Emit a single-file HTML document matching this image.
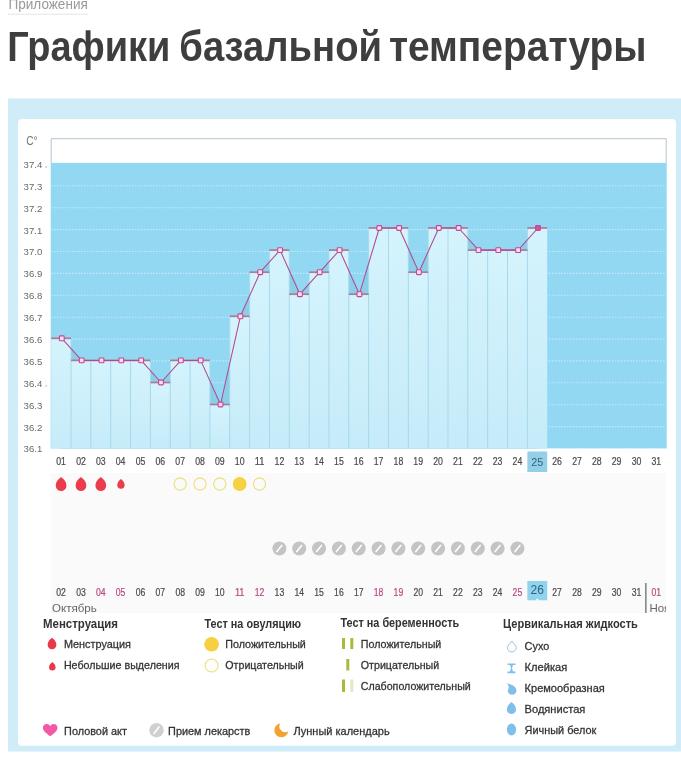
<!DOCTYPE html>
<html><head><meta charset="utf-8"><style>
html,body{margin:0;padding:0;background:#fff;width:681px;height:770px;overflow:hidden;}
svg{position:absolute;left:0;top:0;will-change:transform;}
</style></head><body>
<svg width="681" height="770" viewBox="0 0 681 770">
<defs><linearGradient id="bg" x1="0" y1="0" x2="0" y2="1"><stop offset="0" stop-color="#d4f3fd"/><stop offset="1" stop-color="#c6ecf9"/></linearGradient></defs>
<text x="8.5" y="9.4" font-family="Liberation Sans, sans-serif" font-size="14.5" fill="#999" textLength="79.3" lengthAdjust="spacingAndGlyphs">Приложения</text>
<line x1="8.5" y1="14.2" x2="88" y2="14.2" stroke="#c8c8c8" stroke-width="1" stroke-dasharray="1 1"/>
<text x="7.2" y="60.6" font-family="Liberation Sans, sans-serif" font-size="43" font-weight="bold" fill="#3e3e3e" textLength="163.2" lengthAdjust="spacingAndGlyphs">Графики</text>
<text x="179.3" y="60.6" font-family="Liberation Sans, sans-serif" font-size="43" font-weight="bold" fill="#3e3e3e" textLength="202.7" lengthAdjust="spacingAndGlyphs">базальной</text>
<text x="388.9" y="60.6" font-family="Liberation Sans, sans-serif" font-size="43" font-weight="bold" fill="#3e3e3e" textLength="257.7" lengthAdjust="spacingAndGlyphs">температуры</text>
<rect x="8" y="98.5" width="673" height="653" fill="#d0ecf8"/>
<rect x="18" y="119" width="658" height="626.8" rx="4" fill="#ffffff"/>
<rect x="51.2" y="473" width="615.0" height="140" fill="#fafafb"/>
<path d="M51.2,163.5 V138.7 H666.2 V163.5" fill="none" stroke="#b6c6ce" stroke-width="1"/>
<rect x="51.7" y="162.0" width="614.0" height="1.5" fill="#ecf9fe"/>
<rect x="50.7" y="163.0" width="616.0" height="285.5" fill="#92d8f2"/>
<line x1="51.2" y1="185.8" x2="666.2" y2="185.8" stroke="#eefaff" stroke-width="1.1" stroke-dasharray="1.2 1.8" opacity="0.65"/>
<line x1="51.2" y1="207.7" x2="666.2" y2="207.7" stroke="#eefaff" stroke-width="1.1" stroke-dasharray="1.2 1.8" opacity="0.65"/>
<line x1="51.2" y1="229.6" x2="666.2" y2="229.6" stroke="#eefaff" stroke-width="1.1" stroke-dasharray="1.2 1.8" opacity="0.65"/>
<line x1="51.2" y1="251.5" x2="666.2" y2="251.5" stroke="#eefaff" stroke-width="1.1" stroke-dasharray="1.2 1.8" opacity="0.65"/>
<line x1="51.2" y1="273.4" x2="666.2" y2="273.4" stroke="#eefaff" stroke-width="1.1" stroke-dasharray="1.2 1.8" opacity="0.65"/>
<line x1="51.2" y1="295.3" x2="666.2" y2="295.3" stroke="#eefaff" stroke-width="1.1" stroke-dasharray="1.2 1.8" opacity="0.65"/>
<line x1="51.2" y1="317.2" x2="666.2" y2="317.2" stroke="#eefaff" stroke-width="1.1" stroke-dasharray="1.2 1.8" opacity="0.65"/>
<line x1="51.2" y1="339.1" x2="666.2" y2="339.1" stroke="#eefaff" stroke-width="1.1" stroke-dasharray="1.2 1.8" opacity="0.65"/>
<line x1="51.2" y1="360.9" x2="666.2" y2="360.9" stroke="#eefaff" stroke-width="1.1" stroke-dasharray="1.2 1.8" opacity="0.65"/>
<line x1="51.2" y1="382.8" x2="666.2" y2="382.8" stroke="#eefaff" stroke-width="1.1" stroke-dasharray="1.2 1.8" opacity="0.65"/>
<line x1="51.2" y1="404.7" x2="666.2" y2="404.7" stroke="#eefaff" stroke-width="1.1" stroke-dasharray="1.2 1.8" opacity="0.65"/>
<line x1="51.2" y1="426.6" x2="666.2" y2="426.6" stroke="#eefaff" stroke-width="1.1" stroke-dasharray="1.2 1.8" opacity="0.65"/>
<line x1="51.2" y1="448.5" x2="666.2" y2="448.5" stroke="#eefaff" stroke-width="1.1" stroke-dasharray="1.2 1.8" opacity="0.65"/>
<polygon points="61.1,448.5 61.8,338.3 81.7,360.4 101.5,360.4 121.3,360.4 141.2,360.4 161.0,382.5 180.9,360.4 200.7,360.4 220.5,404.5 240.4,316.3 260.2,272.2 280.1,250.1 299.9,294.2 319.7,272.2 339.6,250.1 359.4,294.2 379.3,228.0 399.1,228.0 418.9,272.2 438.8,228.0 458.6,228.0 478.5,250.1 498.3,250.1 518.1,250.1 538.0,228.0 537.3,448.5" fill="#8acfe7"/>
<rect x="51.20" y="338.3" width="19.84" height="110.2" fill="url(#bg)"/>
<rect x="71.04" y="360.4" width="19.84" height="88.1" fill="url(#bg)"/>
<rect x="90.88" y="360.4" width="19.84" height="88.1" fill="url(#bg)"/>
<rect x="110.72" y="360.4" width="19.84" height="88.1" fill="url(#bg)"/>
<rect x="130.56" y="360.4" width="19.84" height="88.1" fill="url(#bg)"/>
<rect x="150.40" y="382.5" width="19.84" height="66.0" fill="url(#bg)"/>
<rect x="170.24" y="360.4" width="19.84" height="88.1" fill="url(#bg)"/>
<rect x="190.08" y="360.4" width="19.84" height="88.1" fill="url(#bg)"/>
<rect x="209.92" y="404.5" width="19.84" height="44.0" fill="url(#bg)"/>
<rect x="229.76" y="316.3" width="19.84" height="132.2" fill="url(#bg)"/>
<rect x="249.60" y="272.2" width="19.84" height="176.3" fill="url(#bg)"/>
<rect x="269.44" y="250.1" width="19.84" height="198.4" fill="url(#bg)"/>
<rect x="289.28" y="294.2" width="19.84" height="154.3" fill="url(#bg)"/>
<rect x="309.12" y="272.2" width="19.84" height="176.3" fill="url(#bg)"/>
<rect x="328.96" y="250.1" width="19.84" height="198.4" fill="url(#bg)"/>
<rect x="348.80" y="294.2" width="19.84" height="154.3" fill="url(#bg)"/>
<rect x="368.64" y="228.0" width="19.84" height="220.5" fill="url(#bg)"/>
<rect x="388.48" y="228.0" width="19.84" height="220.5" fill="url(#bg)"/>
<rect x="408.32" y="272.2" width="19.84" height="176.3" fill="url(#bg)"/>
<rect x="428.16" y="228.0" width="19.84" height="220.5" fill="url(#bg)"/>
<rect x="448.00" y="228.0" width="19.84" height="220.5" fill="url(#bg)"/>
<rect x="467.84" y="250.1" width="19.84" height="198.4" fill="url(#bg)"/>
<rect x="487.68" y="250.1" width="19.84" height="198.4" fill="url(#bg)"/>
<rect x="507.52" y="250.1" width="19.84" height="198.4" fill="url(#bg)"/>
<rect x="527.36" y="228.0" width="19.84" height="220.5" fill="url(#bg)"/>
<line x1="71.04" y1="338.3" x2="71.04" y2="448.5" stroke="#a9d9ec" stroke-width="1"/>
<line x1="90.88" y1="360.4" x2="90.88" y2="448.5" stroke="#a9d9ec" stroke-width="1"/>
<line x1="110.72" y1="360.4" x2="110.72" y2="448.5" stroke="#a9d9ec" stroke-width="1"/>
<line x1="130.56" y1="360.4" x2="130.56" y2="448.5" stroke="#a9d9ec" stroke-width="1"/>
<line x1="150.40" y1="360.4" x2="150.40" y2="448.5" stroke="#a9d9ec" stroke-width="1"/>
<line x1="170.24" y1="360.4" x2="170.24" y2="448.5" stroke="#a9d9ec" stroke-width="1"/>
<line x1="190.08" y1="360.4" x2="190.08" y2="448.5" stroke="#a9d9ec" stroke-width="1"/>
<line x1="209.92" y1="360.4" x2="209.92" y2="448.5" stroke="#a9d9ec" stroke-width="1"/>
<line x1="229.76" y1="316.3" x2="229.76" y2="448.5" stroke="#a9d9ec" stroke-width="1"/>
<line x1="249.60" y1="272.2" x2="249.60" y2="448.5" stroke="#a9d9ec" stroke-width="1"/>
<line x1="269.44" y1="250.1" x2="269.44" y2="448.5" stroke="#a9d9ec" stroke-width="1"/>
<line x1="289.28" y1="250.1" x2="289.28" y2="448.5" stroke="#a9d9ec" stroke-width="1"/>
<line x1="309.12" y1="272.2" x2="309.12" y2="448.5" stroke="#a9d9ec" stroke-width="1"/>
<line x1="328.96" y1="250.1" x2="328.96" y2="448.5" stroke="#a9d9ec" stroke-width="1"/>
<line x1="348.80" y1="250.1" x2="348.80" y2="448.5" stroke="#a9d9ec" stroke-width="1"/>
<line x1="368.64" y1="228.0" x2="368.64" y2="448.5" stroke="#a9d9ec" stroke-width="1"/>
<line x1="388.48" y1="228.0" x2="388.48" y2="448.5" stroke="#a9d9ec" stroke-width="1"/>
<line x1="408.32" y1="228.0" x2="408.32" y2="448.5" stroke="#a9d9ec" stroke-width="1"/>
<line x1="428.16" y1="228.0" x2="428.16" y2="448.5" stroke="#a9d9ec" stroke-width="1"/>
<line x1="448.00" y1="228.0" x2="448.00" y2="448.5" stroke="#a9d9ec" stroke-width="1"/>
<line x1="467.84" y1="228.0" x2="467.84" y2="448.5" stroke="#a9d9ec" stroke-width="1"/>
<line x1="487.68" y1="250.1" x2="487.68" y2="448.5" stroke="#a9d9ec" stroke-width="1"/>
<line x1="507.52" y1="250.1" x2="507.52" y2="448.5" stroke="#a9d9ec" stroke-width="1"/>
<line x1="527.36" y1="228.0" x2="527.36" y2="448.5" stroke="#a9d9ec" stroke-width="1"/>
<line x1="51.20" y1="338.3" x2="71.04" y2="338.3" stroke="#ad7a9a" stroke-width="1.7"/>
<line x1="71.04" y1="360.4" x2="90.88" y2="360.4" stroke="#ad7a9a" stroke-width="1.7"/>
<line x1="90.88" y1="360.4" x2="110.72" y2="360.4" stroke="#ad7a9a" stroke-width="1.7"/>
<line x1="110.72" y1="360.4" x2="130.56" y2="360.4" stroke="#ad7a9a" stroke-width="1.7"/>
<line x1="130.56" y1="360.4" x2="150.40" y2="360.4" stroke="#ad7a9a" stroke-width="1.7"/>
<line x1="150.40" y1="382.5" x2="170.24" y2="382.5" stroke="#ad7a9a" stroke-width="1.7"/>
<line x1="170.24" y1="360.4" x2="190.08" y2="360.4" stroke="#ad7a9a" stroke-width="1.7"/>
<line x1="190.08" y1="360.4" x2="209.92" y2="360.4" stroke="#ad7a9a" stroke-width="1.7"/>
<line x1="209.92" y1="404.5" x2="229.76" y2="404.5" stroke="#ad7a9a" stroke-width="1.7"/>
<line x1="229.76" y1="316.3" x2="249.60" y2="316.3" stroke="#ad7a9a" stroke-width="1.7"/>
<line x1="249.60" y1="272.2" x2="269.44" y2="272.2" stroke="#ad7a9a" stroke-width="1.7"/>
<line x1="269.44" y1="250.1" x2="289.28" y2="250.1" stroke="#ad7a9a" stroke-width="1.7"/>
<line x1="289.28" y1="294.2" x2="309.12" y2="294.2" stroke="#ad7a9a" stroke-width="1.7"/>
<line x1="309.12" y1="272.2" x2="328.96" y2="272.2" stroke="#ad7a9a" stroke-width="1.7"/>
<line x1="328.96" y1="250.1" x2="348.80" y2="250.1" stroke="#ad7a9a" stroke-width="1.7"/>
<line x1="348.80" y1="294.2" x2="368.64" y2="294.2" stroke="#ad7a9a" stroke-width="1.7"/>
<line x1="368.64" y1="228.0" x2="388.48" y2="228.0" stroke="#ad7a9a" stroke-width="1.7"/>
<line x1="388.48" y1="228.0" x2="408.32" y2="228.0" stroke="#ad7a9a" stroke-width="1.7"/>
<line x1="408.32" y1="272.2" x2="428.16" y2="272.2" stroke="#ad7a9a" stroke-width="1.7"/>
<line x1="428.16" y1="228.0" x2="448.00" y2="228.0" stroke="#ad7a9a" stroke-width="1.7"/>
<line x1="448.00" y1="228.0" x2="467.84" y2="228.0" stroke="#ad7a9a" stroke-width="1.7"/>
<line x1="467.84" y1="250.1" x2="487.68" y2="250.1" stroke="#ad7a9a" stroke-width="1.7"/>
<line x1="487.68" y1="250.1" x2="507.52" y2="250.1" stroke="#ad7a9a" stroke-width="1.7"/>
<line x1="507.52" y1="250.1" x2="527.36" y2="250.1" stroke="#ad7a9a" stroke-width="1.7"/>
<line x1="527.36" y1="228.0" x2="547.20" y2="228.0" stroke="#ad7a9a" stroke-width="1.7"/>
<polyline points="61.8,338.3 81.7,360.4 101.5,360.4 121.3,360.4 141.2,360.4 161.0,382.5 180.9,360.4 200.7,360.4 220.5,404.5 240.4,316.3 260.2,272.2 280.1,250.1 299.9,294.2 319.7,272.2 339.6,250.1 359.4,294.2 379.3,228.0 399.1,228.0 418.9,272.2 438.8,228.0 458.6,228.0 478.5,250.1 498.3,250.1 518.1,250.1 538.0,228.0" fill="none" stroke="#b24a8e" stroke-width="1.05" stroke-linejoin="round"/>
<rect x="59.4" y="335.9" width="4.8" height="4.8" rx="0.8" fill="#fcdcf2" stroke="#c04a90" stroke-width="1.1"/>
<rect x="79.3" y="358.0" width="4.8" height="4.8" rx="0.8" fill="#fcdcf2" stroke="#c04a90" stroke-width="1.1"/>
<rect x="99.1" y="358.0" width="4.8" height="4.8" rx="0.8" fill="#fcdcf2" stroke="#c04a90" stroke-width="1.1"/>
<rect x="118.9" y="358.0" width="4.8" height="4.8" rx="0.8" fill="#fcdcf2" stroke="#c04a90" stroke-width="1.1"/>
<rect x="138.8" y="358.0" width="4.8" height="4.8" rx="0.8" fill="#fcdcf2" stroke="#c04a90" stroke-width="1.1"/>
<rect x="158.6" y="380.1" width="4.8" height="4.8" rx="0.8" fill="#fcdcf2" stroke="#c04a90" stroke-width="1.1"/>
<rect x="178.5" y="358.0" width="4.8" height="4.8" rx="0.8" fill="#fcdcf2" stroke="#c04a90" stroke-width="1.1"/>
<rect x="198.3" y="358.0" width="4.8" height="4.8" rx="0.8" fill="#fcdcf2" stroke="#c04a90" stroke-width="1.1"/>
<rect x="218.1" y="402.1" width="4.8" height="4.8" rx="0.8" fill="#fcdcf2" stroke="#c04a90" stroke-width="1.1"/>
<rect x="238.0" y="313.9" width="4.8" height="4.8" rx="0.8" fill="#fcdcf2" stroke="#c04a90" stroke-width="1.1"/>
<rect x="257.8" y="269.8" width="4.8" height="4.8" rx="0.8" fill="#fcdcf2" stroke="#c04a90" stroke-width="1.1"/>
<rect x="277.7" y="247.7" width="4.8" height="4.8" rx="0.8" fill="#fcdcf2" stroke="#c04a90" stroke-width="1.1"/>
<rect x="297.5" y="291.8" width="4.8" height="4.8" rx="0.8" fill="#fcdcf2" stroke="#c04a90" stroke-width="1.1"/>
<rect x="317.3" y="269.8" width="4.8" height="4.8" rx="0.8" fill="#fcdcf2" stroke="#c04a90" stroke-width="1.1"/>
<rect x="337.2" y="247.7" width="4.8" height="4.8" rx="0.8" fill="#fcdcf2" stroke="#c04a90" stroke-width="1.1"/>
<rect x="357.0" y="291.8" width="4.8" height="4.8" rx="0.8" fill="#fcdcf2" stroke="#c04a90" stroke-width="1.1"/>
<rect x="376.9" y="225.6" width="4.8" height="4.8" rx="0.8" fill="#fcdcf2" stroke="#c04a90" stroke-width="1.1"/>
<rect x="396.7" y="225.6" width="4.8" height="4.8" rx="0.8" fill="#fcdcf2" stroke="#c04a90" stroke-width="1.1"/>
<rect x="416.5" y="269.8" width="4.8" height="4.8" rx="0.8" fill="#fcdcf2" stroke="#c04a90" stroke-width="1.1"/>
<rect x="436.4" y="225.6" width="4.8" height="4.8" rx="0.8" fill="#fcdcf2" stroke="#c04a90" stroke-width="1.1"/>
<rect x="456.2" y="225.6" width="4.8" height="4.8" rx="0.8" fill="#fcdcf2" stroke="#c04a90" stroke-width="1.1"/>
<rect x="476.1" y="247.7" width="4.8" height="4.8" rx="0.8" fill="#fcdcf2" stroke="#c04a90" stroke-width="1.1"/>
<rect x="495.9" y="247.7" width="4.8" height="4.8" rx="0.8" fill="#fcdcf2" stroke="#c04a90" stroke-width="1.1"/>
<rect x="515.7" y="247.7" width="4.8" height="4.8" rx="0.8" fill="#fcdcf2" stroke="#c04a90" stroke-width="1.1"/>
<rect x="535.6" y="225.6" width="4.8" height="4.8" rx="0.8" fill="#c8589a" stroke="#c04a90" stroke-width="1.1"/>
<text x="26.2" y="144.5" font-family="Liberation Sans, sans-serif" font-size="12" fill="#777" textLength="11.5" lengthAdjust="spacingAndGlyphs">C°</text>
<text x="23.6" y="167.8" font-family="Liberation Sans, sans-serif" font-size="9.4" fill="#686868" textLength="18.7" lengthAdjust="spacingAndGlyphs">37.4</text>
<text x="23.6" y="189.7" font-family="Liberation Sans, sans-serif" font-size="9.4" fill="#686868" textLength="18.7" lengthAdjust="spacingAndGlyphs">37.3</text>
<text x="23.6" y="211.6" font-family="Liberation Sans, sans-serif" font-size="9.4" fill="#686868" textLength="18.7" lengthAdjust="spacingAndGlyphs">37.2</text>
<text x="23.6" y="233.5" font-family="Liberation Sans, sans-serif" font-size="9.4" fill="#686868" textLength="18.7" lengthAdjust="spacingAndGlyphs">37.1</text>
<text x="23.6" y="255.4" font-family="Liberation Sans, sans-serif" font-size="9.4" fill="#686868" textLength="18.7" lengthAdjust="spacingAndGlyphs">37.0</text>
<text x="23.6" y="277.3" font-family="Liberation Sans, sans-serif" font-size="9.4" fill="#686868" textLength="18.7" lengthAdjust="spacingAndGlyphs">36.9</text>
<text x="23.6" y="299.2" font-family="Liberation Sans, sans-serif" font-size="9.4" fill="#686868" textLength="18.7" lengthAdjust="spacingAndGlyphs">36.8</text>
<text x="23.6" y="321.1" font-family="Liberation Sans, sans-serif" font-size="9.4" fill="#686868" textLength="18.7" lengthAdjust="spacingAndGlyphs">36.7</text>
<text x="23.6" y="342.9" font-family="Liberation Sans, sans-serif" font-size="9.4" fill="#686868" textLength="18.7" lengthAdjust="spacingAndGlyphs">36.6</text>
<text x="23.6" y="364.8" font-family="Liberation Sans, sans-serif" font-size="9.4" fill="#686868" textLength="18.7" lengthAdjust="spacingAndGlyphs">36.5</text>
<text x="23.6" y="386.7" font-family="Liberation Sans, sans-serif" font-size="9.4" fill="#686868" textLength="18.7" lengthAdjust="spacingAndGlyphs">36.4</text>
<text x="23.6" y="408.6" font-family="Liberation Sans, sans-serif" font-size="9.4" fill="#686868" textLength="18.7" lengthAdjust="spacingAndGlyphs">36.3</text>
<text x="23.6" y="430.5" font-family="Liberation Sans, sans-serif" font-size="9.4" fill="#686868" textLength="18.7" lengthAdjust="spacingAndGlyphs">36.2</text>
<text x="23.6" y="452.4" font-family="Liberation Sans, sans-serif" font-size="9.4" fill="#686868" textLength="18.7" lengthAdjust="spacingAndGlyphs">36.1</text>
<rect x="45.5" y="166.4" width="1.2" height="1.2" fill="#999"/><rect x="45.5" y="385.3" width="1.2" height="1.2" fill="#999"/>
<rect x="527.36" y="451.5" width="19.84" height="20.5" fill="#93cfe6"/>
<text x="61.1" y="465" font-family="Liberation Sans, sans-serif" font-size="10" fill="#4a4a4a" stroke="#4a4a4a" stroke-width="0.2" text-anchor="middle" textLength="9.7" lengthAdjust="spacingAndGlyphs">01</text>
<text x="81.0" y="465" font-family="Liberation Sans, sans-serif" font-size="10" fill="#4a4a4a" stroke="#4a4a4a" stroke-width="0.2" text-anchor="middle" textLength="9.7" lengthAdjust="spacingAndGlyphs">02</text>
<text x="100.8" y="465" font-family="Liberation Sans, sans-serif" font-size="10" fill="#4a4a4a" stroke="#4a4a4a" stroke-width="0.2" text-anchor="middle" textLength="9.7" lengthAdjust="spacingAndGlyphs">03</text>
<text x="120.6" y="465" font-family="Liberation Sans, sans-serif" font-size="10" fill="#4a4a4a" stroke="#4a4a4a" stroke-width="0.2" text-anchor="middle" textLength="9.7" lengthAdjust="spacingAndGlyphs">04</text>
<text x="140.5" y="465" font-family="Liberation Sans, sans-serif" font-size="10" fill="#4a4a4a" stroke="#4a4a4a" stroke-width="0.2" text-anchor="middle" textLength="9.7" lengthAdjust="spacingAndGlyphs">05</text>
<text x="160.3" y="465" font-family="Liberation Sans, sans-serif" font-size="10" fill="#4a4a4a" stroke="#4a4a4a" stroke-width="0.2" text-anchor="middle" textLength="9.7" lengthAdjust="spacingAndGlyphs">06</text>
<text x="180.2" y="465" font-family="Liberation Sans, sans-serif" font-size="10" fill="#4a4a4a" stroke="#4a4a4a" stroke-width="0.2" text-anchor="middle" textLength="9.7" lengthAdjust="spacingAndGlyphs">07</text>
<text x="200.0" y="465" font-family="Liberation Sans, sans-serif" font-size="10" fill="#4a4a4a" stroke="#4a4a4a" stroke-width="0.2" text-anchor="middle" textLength="9.7" lengthAdjust="spacingAndGlyphs">08</text>
<text x="219.8" y="465" font-family="Liberation Sans, sans-serif" font-size="10" fill="#4a4a4a" stroke="#4a4a4a" stroke-width="0.2" text-anchor="middle" textLength="9.7" lengthAdjust="spacingAndGlyphs">09</text>
<text x="239.7" y="465" font-family="Liberation Sans, sans-serif" font-size="10" fill="#4a4a4a" stroke="#4a4a4a" stroke-width="0.2" text-anchor="middle" textLength="9.7" lengthAdjust="spacingAndGlyphs">10</text>
<text x="259.5" y="465" font-family="Liberation Sans, sans-serif" font-size="10" fill="#4a4a4a" stroke="#4a4a4a" stroke-width="0.2" text-anchor="middle" textLength="9.7" lengthAdjust="spacingAndGlyphs">11</text>
<text x="279.4" y="465" font-family="Liberation Sans, sans-serif" font-size="10" fill="#4a4a4a" stroke="#4a4a4a" stroke-width="0.2" text-anchor="middle" textLength="9.7" lengthAdjust="spacingAndGlyphs">12</text>
<text x="299.2" y="465" font-family="Liberation Sans, sans-serif" font-size="10" fill="#4a4a4a" stroke="#4a4a4a" stroke-width="0.2" text-anchor="middle" textLength="9.7" lengthAdjust="spacingAndGlyphs">13</text>
<text x="319.0" y="465" font-family="Liberation Sans, sans-serif" font-size="10" fill="#4a4a4a" stroke="#4a4a4a" stroke-width="0.2" text-anchor="middle" textLength="9.7" lengthAdjust="spacingAndGlyphs">14</text>
<text x="338.9" y="465" font-family="Liberation Sans, sans-serif" font-size="10" fill="#4a4a4a" stroke="#4a4a4a" stroke-width="0.2" text-anchor="middle" textLength="9.7" lengthAdjust="spacingAndGlyphs">15</text>
<text x="358.7" y="465" font-family="Liberation Sans, sans-serif" font-size="10" fill="#4a4a4a" stroke="#4a4a4a" stroke-width="0.2" text-anchor="middle" textLength="9.7" lengthAdjust="spacingAndGlyphs">16</text>
<text x="378.6" y="465" font-family="Liberation Sans, sans-serif" font-size="10" fill="#4a4a4a" stroke="#4a4a4a" stroke-width="0.2" text-anchor="middle" textLength="9.7" lengthAdjust="spacingAndGlyphs">17</text>
<text x="398.4" y="465" font-family="Liberation Sans, sans-serif" font-size="10" fill="#4a4a4a" stroke="#4a4a4a" stroke-width="0.2" text-anchor="middle" textLength="9.7" lengthAdjust="spacingAndGlyphs">18</text>
<text x="418.2" y="465" font-family="Liberation Sans, sans-serif" font-size="10" fill="#4a4a4a" stroke="#4a4a4a" stroke-width="0.2" text-anchor="middle" textLength="9.7" lengthAdjust="spacingAndGlyphs">19</text>
<text x="438.1" y="465" font-family="Liberation Sans, sans-serif" font-size="10" fill="#4a4a4a" stroke="#4a4a4a" stroke-width="0.2" text-anchor="middle" textLength="9.7" lengthAdjust="spacingAndGlyphs">20</text>
<text x="457.9" y="465" font-family="Liberation Sans, sans-serif" font-size="10" fill="#4a4a4a" stroke="#4a4a4a" stroke-width="0.2" text-anchor="middle" textLength="9.7" lengthAdjust="spacingAndGlyphs">21</text>
<text x="477.8" y="465" font-family="Liberation Sans, sans-serif" font-size="10" fill="#4a4a4a" stroke="#4a4a4a" stroke-width="0.2" text-anchor="middle" textLength="9.7" lengthAdjust="spacingAndGlyphs">22</text>
<text x="497.6" y="465" font-family="Liberation Sans, sans-serif" font-size="10" fill="#4a4a4a" stroke="#4a4a4a" stroke-width="0.2" text-anchor="middle" textLength="9.7" lengthAdjust="spacingAndGlyphs">23</text>
<text x="517.4" y="465" font-family="Liberation Sans, sans-serif" font-size="10" fill="#4a4a4a" stroke="#4a4a4a" stroke-width="0.2" text-anchor="middle" textLength="9.7" lengthAdjust="spacingAndGlyphs">24</text>
<text x="537.3" y="465.8" font-family="Liberation Sans, sans-serif" font-size="11.5" fill="#2f6577" text-anchor="middle" textLength="12" lengthAdjust="spacingAndGlyphs">25</text>
<text x="557.1" y="465" font-family="Liberation Sans, sans-serif" font-size="10" fill="#4a4a4a" stroke="#4a4a4a" stroke-width="0.2" text-anchor="middle" textLength="9.7" lengthAdjust="spacingAndGlyphs">26</text>
<text x="577.0" y="465" font-family="Liberation Sans, sans-serif" font-size="10" fill="#4a4a4a" stroke="#4a4a4a" stroke-width="0.2" text-anchor="middle" textLength="9.7" lengthAdjust="spacingAndGlyphs">27</text>
<text x="596.8" y="465" font-family="Liberation Sans, sans-serif" font-size="10" fill="#4a4a4a" stroke="#4a4a4a" stroke-width="0.2" text-anchor="middle" textLength="9.7" lengthAdjust="spacingAndGlyphs">28</text>
<text x="616.6" y="465" font-family="Liberation Sans, sans-serif" font-size="10" fill="#4a4a4a" stroke="#4a4a4a" stroke-width="0.2" text-anchor="middle" textLength="9.7" lengthAdjust="spacingAndGlyphs">29</text>
<text x="636.5" y="465" font-family="Liberation Sans, sans-serif" font-size="10" fill="#4a4a4a" stroke="#4a4a4a" stroke-width="0.2" text-anchor="middle" textLength="9.7" lengthAdjust="spacingAndGlyphs">30</text>
<text x="656.3" y="465" font-family="Liberation Sans, sans-serif" font-size="10" fill="#4a4a4a" stroke="#4a4a4a" stroke-width="0.2" text-anchor="middle" textLength="9.7" lengthAdjust="spacingAndGlyphs">31</text>
<rect x="527.36" y="581" width="19.84" height="19.3" fill="#8fd3ee"/><path d="M535.3,600.4 L537.3,598.4 L539.3,600.4Z" fill="#fff"/>
<text x="61.1" y="595.5" font-family="Liberation Sans, sans-serif" font-size="10" fill="#4a4a4a" stroke="#4a4a4a" stroke-width="0.2" text-anchor="middle" textLength="9.6" lengthAdjust="spacingAndGlyphs">02</text>
<text x="81.0" y="595.5" font-family="Liberation Sans, sans-serif" font-size="10" fill="#4a4a4a" stroke="#4a4a4a" stroke-width="0.2" text-anchor="middle" textLength="9.6" lengthAdjust="spacingAndGlyphs">03</text>
<text x="100.8" y="595.5" font-family="Liberation Sans, sans-serif" font-size="10" fill="#b84a84" stroke="#b84a84" stroke-width="0.2" text-anchor="middle" textLength="9.6" lengthAdjust="spacingAndGlyphs">04</text>
<text x="120.6" y="595.5" font-family="Liberation Sans, sans-serif" font-size="10" fill="#b84a84" stroke="#b84a84" stroke-width="0.2" text-anchor="middle" textLength="9.6" lengthAdjust="spacingAndGlyphs">05</text>
<text x="140.5" y="595.5" font-family="Liberation Sans, sans-serif" font-size="10" fill="#4a4a4a" stroke="#4a4a4a" stroke-width="0.2" text-anchor="middle" textLength="9.6" lengthAdjust="spacingAndGlyphs">06</text>
<text x="160.3" y="595.5" font-family="Liberation Sans, sans-serif" font-size="10" fill="#4a4a4a" stroke="#4a4a4a" stroke-width="0.2" text-anchor="middle" textLength="9.6" lengthAdjust="spacingAndGlyphs">07</text>
<text x="180.2" y="595.5" font-family="Liberation Sans, sans-serif" font-size="10" fill="#4a4a4a" stroke="#4a4a4a" stroke-width="0.2" text-anchor="middle" textLength="9.6" lengthAdjust="spacingAndGlyphs">08</text>
<text x="200.0" y="595.5" font-family="Liberation Sans, sans-serif" font-size="10" fill="#4a4a4a" stroke="#4a4a4a" stroke-width="0.2" text-anchor="middle" textLength="9.6" lengthAdjust="spacingAndGlyphs">09</text>
<text x="219.8" y="595.5" font-family="Liberation Sans, sans-serif" font-size="10" fill="#4a4a4a" stroke="#4a4a4a" stroke-width="0.2" text-anchor="middle" textLength="9.6" lengthAdjust="spacingAndGlyphs">10</text>
<text x="239.7" y="595.5" font-family="Liberation Sans, sans-serif" font-size="10" fill="#b84a84" stroke="#b84a84" stroke-width="0.2" text-anchor="middle" textLength="9.6" lengthAdjust="spacingAndGlyphs">11</text>
<text x="259.5" y="595.5" font-family="Liberation Sans, sans-serif" font-size="10" fill="#b84a84" stroke="#b84a84" stroke-width="0.2" text-anchor="middle" textLength="9.6" lengthAdjust="spacingAndGlyphs">12</text>
<text x="279.4" y="595.5" font-family="Liberation Sans, sans-serif" font-size="10" fill="#4a4a4a" stroke="#4a4a4a" stroke-width="0.2" text-anchor="middle" textLength="9.6" lengthAdjust="spacingAndGlyphs">13</text>
<text x="299.2" y="595.5" font-family="Liberation Sans, sans-serif" font-size="10" fill="#4a4a4a" stroke="#4a4a4a" stroke-width="0.2" text-anchor="middle" textLength="9.6" lengthAdjust="spacingAndGlyphs">14</text>
<text x="319.0" y="595.5" font-family="Liberation Sans, sans-serif" font-size="10" fill="#4a4a4a" stroke="#4a4a4a" stroke-width="0.2" text-anchor="middle" textLength="9.6" lengthAdjust="spacingAndGlyphs">15</text>
<text x="338.9" y="595.5" font-family="Liberation Sans, sans-serif" font-size="10" fill="#4a4a4a" stroke="#4a4a4a" stroke-width="0.2" text-anchor="middle" textLength="9.6" lengthAdjust="spacingAndGlyphs">16</text>
<text x="358.7" y="595.5" font-family="Liberation Sans, sans-serif" font-size="10" fill="#4a4a4a" stroke="#4a4a4a" stroke-width="0.2" text-anchor="middle" textLength="9.6" lengthAdjust="spacingAndGlyphs">17</text>
<text x="378.6" y="595.5" font-family="Liberation Sans, sans-serif" font-size="10" fill="#b84a84" stroke="#b84a84" stroke-width="0.2" text-anchor="middle" textLength="9.6" lengthAdjust="spacingAndGlyphs">18</text>
<text x="398.4" y="595.5" font-family="Liberation Sans, sans-serif" font-size="10" fill="#b84a84" stroke="#b84a84" stroke-width="0.2" text-anchor="middle" textLength="9.6" lengthAdjust="spacingAndGlyphs">19</text>
<text x="418.2" y="595.5" font-family="Liberation Sans, sans-serif" font-size="10" fill="#4a4a4a" stroke="#4a4a4a" stroke-width="0.2" text-anchor="middle" textLength="9.6" lengthAdjust="spacingAndGlyphs">20</text>
<text x="438.1" y="595.5" font-family="Liberation Sans, sans-serif" font-size="10" fill="#4a4a4a" stroke="#4a4a4a" stroke-width="0.2" text-anchor="middle" textLength="9.6" lengthAdjust="spacingAndGlyphs">21</text>
<text x="457.9" y="595.5" font-family="Liberation Sans, sans-serif" font-size="10" fill="#4a4a4a" stroke="#4a4a4a" stroke-width="0.2" text-anchor="middle" textLength="9.6" lengthAdjust="spacingAndGlyphs">22</text>
<text x="477.8" y="595.5" font-family="Liberation Sans, sans-serif" font-size="10" fill="#4a4a4a" stroke="#4a4a4a" stroke-width="0.2" text-anchor="middle" textLength="9.6" lengthAdjust="spacingAndGlyphs">23</text>
<text x="497.6" y="595.5" font-family="Liberation Sans, sans-serif" font-size="10" fill="#4a4a4a" stroke="#4a4a4a" stroke-width="0.2" text-anchor="middle" textLength="9.6" lengthAdjust="spacingAndGlyphs">24</text>
<text x="517.4" y="595.5" font-family="Liberation Sans, sans-serif" font-size="10" fill="#b84a84" stroke="#b84a84" stroke-width="0.2" text-anchor="middle" textLength="9.6" lengthAdjust="spacingAndGlyphs">25</text>
<text x="537.3" y="593.6" font-family="Liberation Sans, sans-serif" font-size="12" fill="#2f6577" text-anchor="middle">26</text>
<text x="557.1" y="595.5" font-family="Liberation Sans, sans-serif" font-size="10" fill="#4a4a4a" stroke="#4a4a4a" stroke-width="0.2" text-anchor="middle" textLength="9.6" lengthAdjust="spacingAndGlyphs">27</text>
<text x="577.0" y="595.5" font-family="Liberation Sans, sans-serif" font-size="10" fill="#4a4a4a" stroke="#4a4a4a" stroke-width="0.2" text-anchor="middle" textLength="9.6" lengthAdjust="spacingAndGlyphs">28</text>
<text x="596.8" y="595.5" font-family="Liberation Sans, sans-serif" font-size="10" fill="#4a4a4a" stroke="#4a4a4a" stroke-width="0.2" text-anchor="middle" textLength="9.6" lengthAdjust="spacingAndGlyphs">29</text>
<text x="616.6" y="595.5" font-family="Liberation Sans, sans-serif" font-size="10" fill="#4a4a4a" stroke="#4a4a4a" stroke-width="0.2" text-anchor="middle" textLength="9.6" lengthAdjust="spacingAndGlyphs">30</text>
<text x="636.5" y="595.5" font-family="Liberation Sans, sans-serif" font-size="10" fill="#4a4a4a" stroke="#4a4a4a" stroke-width="0.2" text-anchor="middle" textLength="9.6" lengthAdjust="spacingAndGlyphs">31</text>
<text x="656.3" y="595.5" font-family="Liberation Sans, sans-serif" font-size="10" fill="#b84a84" stroke="#b84a84" stroke-width="0.2" text-anchor="middle" textLength="9.6" lengthAdjust="spacingAndGlyphs">01</text>
<line x1="645.9" y1="583" x2="645.9" y2="613" stroke="#444" stroke-width="1"/>
<text x="52" y="612" font-family="Liberation Sans, sans-serif" font-size="11.5" fill="#666" textLength="44.8" lengthAdjust="spacingAndGlyphs">Октябрь</text>
<clipPath id="cp"><rect x="51.2" y="570" width="615.0" height="50"/></clipPath><text clip-path="url(#cp)" x="649.4" y="612" font-family="Liberation Sans, sans-serif" font-size="11.5" fill="#666">Ноя</text>
<path d="M61.12,477.00 C64.05,479.52 66.44,481.69 66.44,485.68 A5.32,5.32 0 0 1 55.80,485.68 C55.80,481.69 58.19,479.52 61.12,477.00Z" fill="#ec3b4c"/>
<path d="M80.96,477.00 C83.89,479.52 86.28,481.69 86.28,485.68 A5.32,5.32 0 0 1 75.64,485.68 C75.64,481.69 78.03,479.52 80.96,477.00Z" fill="#ec3b4c"/>
<path d="M100.80,477.00 C103.73,479.52 106.12,481.69 106.12,485.68 A5.32,5.32 0 0 1 95.48,485.68 C95.48,481.69 97.87,479.52 100.80,477.00Z" fill="#ec3b4c"/>
<path d="M120.94,479.00 C122.97,480.75 124.63,482.25 124.63,485.01 A3.69,3.69 0 0 1 117.25,485.01 C117.25,482.25 118.91,480.75 120.94,479.00Z" fill="#ec3b4c"/>
<circle cx="180.2" cy="484" r="6.1" fill="none" stroke="#ece07e" stroke-width="1.15"/>
<circle cx="200.0" cy="484" r="6.1" fill="none" stroke="#ece07e" stroke-width="1.15"/>
<circle cx="219.8" cy="484" r="6.1" fill="none" stroke="#ece07e" stroke-width="1.15"/>
<circle cx="259.5" cy="484" r="6.1" fill="none" stroke="#ece07e" stroke-width="1.15"/>
<circle cx="239.7" cy="484" r="6.9" fill="#f6d142"/>
<circle cx="279.4" cy="548.5" r="7" fill="#c4c4c4"/><line x1="276.9" y1="551.6" x2="281.8" y2="545.4" stroke="#fff" stroke-width="1.6" stroke-linecap="round"/>
<circle cx="299.2" cy="548.5" r="7" fill="#c4c4c4"/><line x1="296.8" y1="551.6" x2="301.6" y2="545.4" stroke="#fff" stroke-width="1.6" stroke-linecap="round"/>
<circle cx="319.0" cy="548.5" r="7" fill="#c4c4c4"/><line x1="316.6" y1="551.6" x2="321.5" y2="545.4" stroke="#fff" stroke-width="1.6" stroke-linecap="round"/>
<circle cx="338.9" cy="548.5" r="7" fill="#c4c4c4"/><line x1="336.4" y1="551.6" x2="341.3" y2="545.4" stroke="#fff" stroke-width="1.6" stroke-linecap="round"/>
<circle cx="358.7" cy="548.5" r="7" fill="#c4c4c4"/><line x1="356.3" y1="551.6" x2="361.2" y2="545.4" stroke="#fff" stroke-width="1.6" stroke-linecap="round"/>
<circle cx="378.6" cy="548.5" r="7" fill="#c4c4c4"/><line x1="376.1" y1="551.6" x2="381.0" y2="545.4" stroke="#fff" stroke-width="1.6" stroke-linecap="round"/>
<circle cx="398.4" cy="548.5" r="7" fill="#c4c4c4"/><line x1="395.9" y1="551.6" x2="400.8" y2="545.4" stroke="#fff" stroke-width="1.6" stroke-linecap="round"/>
<circle cx="418.2" cy="548.5" r="7" fill="#c4c4c4"/><line x1="415.8" y1="551.6" x2="420.7" y2="545.4" stroke="#fff" stroke-width="1.6" stroke-linecap="round"/>
<circle cx="438.1" cy="548.5" r="7" fill="#c4c4c4"/><line x1="435.6" y1="551.6" x2="440.5" y2="545.4" stroke="#fff" stroke-width="1.6" stroke-linecap="round"/>
<circle cx="457.9" cy="548.5" r="7" fill="#c4c4c4"/><line x1="455.5" y1="551.6" x2="460.4" y2="545.4" stroke="#fff" stroke-width="1.6" stroke-linecap="round"/>
<circle cx="477.8" cy="548.5" r="7" fill="#c4c4c4"/><line x1="475.3" y1="551.6" x2="480.2" y2="545.4" stroke="#fff" stroke-width="1.6" stroke-linecap="round"/>
<circle cx="497.6" cy="548.5" r="7" fill="#c4c4c4"/><line x1="495.1" y1="551.6" x2="500.0" y2="545.4" stroke="#fff" stroke-width="1.6" stroke-linecap="round"/>
<circle cx="517.4" cy="548.5" r="7" fill="#c4c4c4"/><line x1="515.0" y1="551.6" x2="519.9" y2="545.4" stroke="#fff" stroke-width="1.6" stroke-linecap="round"/>
<text x="43.1" y="627.6" font-family="Liberation Sans, sans-serif" font-size="12" font-weight="bold" fill="#333" textLength="74.8" lengthAdjust="spacingAndGlyphs">Менструация</text>
<text x="204.5" y="627.6" font-family="Liberation Sans, sans-serif" font-size="12" font-weight="bold" fill="#333" textLength="96.6" lengthAdjust="spacingAndGlyphs">Тест на овуляцию</text>
<text x="340.5" y="627.3" font-family="Liberation Sans, sans-serif" font-size="12" font-weight="bold" fill="#333" textLength="118.7" lengthAdjust="spacingAndGlyphs">Тест на беременность</text>
<text x="503.1" y="627.6" font-family="Liberation Sans, sans-serif" font-size="12" font-weight="bold" fill="#333" textLength="134.8" lengthAdjust="spacingAndGlyphs">Цервикальная жидкость</text>
<path d="M52.00,637.70 C54.40,639.77 56.37,641.55 56.37,644.83 A4.37,4.37 0 0 1 47.63,644.83 C47.63,641.55 49.60,639.77 52.00,637.70Z" fill="#e9384a"/>
<text x="63.900000000000006" y="648" font-family="Liberation Sans, sans-serif" font-size="11.5" fill="#343434" stroke="#343434" stroke-width="0.3" textLength="67.0" lengthAdjust="spacingAndGlyphs">Менструация</text>
<path d="M52.30,662.00 C54.08,663.53 55.53,664.85 55.53,667.27 A3.23,3.23 0 0 1 49.07,667.27 C49.07,664.85 50.52,663.53 52.30,662.00Z" fill="#e9384a"/>
<text x="63.900000000000006" y="669.2" font-family="Liberation Sans, sans-serif" font-size="11.5" fill="#343434" stroke="#343434" stroke-width="0.3" textLength="115.6" lengthAdjust="spacingAndGlyphs">Небольшие выделения</text>
<circle cx="211.6" cy="644.3" r="7.3" fill="#f6d040"/>
<text x="225.3" y="647.9" font-family="Liberation Sans, sans-serif" font-size="11.5" fill="#343434" stroke="#343434" stroke-width="0.3" textLength="80.5" lengthAdjust="spacingAndGlyphs">Положительный</text>
<circle cx="211.6" cy="665.5" r="6.5" fill="none" stroke="#ece07e" stroke-width="1.15"/>
<text x="225.3" y="669.3" font-family="Liberation Sans, sans-serif" font-size="11.5" fill="#343434" stroke="#343434" stroke-width="0.3" textLength="78.4" lengthAdjust="spacingAndGlyphs">Отрицательный</text>
<rect x="342" y="638" width="3" height="11" fill="#a5bd3a"/><rect x="350.3" y="638" width="3" height="11" fill="#a5bd3a"/>
<text x="360.8" y="647.6" font-family="Liberation Sans, sans-serif" font-size="11.5" fill="#343434" stroke="#343434" stroke-width="0.3" textLength="80.5" lengthAdjust="spacingAndGlyphs">Положительный</text>
<rect x="346.3" y="659" width="3" height="11.5" fill="#a5bd3a"/>
<text x="360.8" y="668.7" font-family="Liberation Sans, sans-serif" font-size="11.5" fill="#343434" stroke="#343434" stroke-width="0.3" textLength="78.4" lengthAdjust="spacingAndGlyphs">Отрицательный</text>
<rect x="342" y="679.5" width="3" height="12.5" fill="#a5bd3a"/><rect x="350.3" y="679.5" width="3" height="12.5" fill="#e2e9c4"/>
<text x="360.8" y="689.9" font-family="Liberation Sans, sans-serif" font-size="11.5" fill="#343434" stroke="#343434" stroke-width="0.3" textLength="110.0" lengthAdjust="spacingAndGlyphs">Слабоположительный</text>
<path d="M511.8,641 C513.5,643.6 516.2,645.6 516.2,647.8 A4.4,4.1 0 0 1 507.4,647.8 C507.4,645.6 510.1,643.6 511.8,641Z" fill="none" stroke="#a2bfd2" stroke-width="1"/>
<text x="524.6" y="649.5" font-family="Liberation Sans, sans-serif" font-size="11.5" fill="#343434" stroke="#343434" stroke-width="0.3" textLength="24.7" lengthAdjust="spacingAndGlyphs">Сухо</text>
<path d="M507.5,663.5 H515.5 V665 H513 L512,668.3 L513,671.6 H515.5 V673.2 H507.5 V671.6 H510 L511,668.3 L510,665 H507.5Z" fill="#7fc0ea"/>
<text x="524.6" y="671.1" font-family="Liberation Sans, sans-serif" font-size="11.5" fill="#343434" stroke="#343434" stroke-width="0.3" textLength="42.7" lengthAdjust="spacingAndGlyphs">Клейкая</text>
<path d="M507,683.3 C510,684 516.5,686.3 516.5,690.2 A4.4,4.4 0 0 1 507.8,691.2 C507.6,689 510.5,688.5 507,683.3Z" fill="#7fc0ea"/>
<text x="524.6" y="692.2" font-family="Liberation Sans, sans-serif" font-size="11.5" fill="#343434" stroke="#343434" stroke-width="0.3" textLength="80.2" lengthAdjust="spacingAndGlyphs">Кремообразная</text>
<path d="M511.50,702.00 C514.01,704.16 516.06,706.02 516.06,709.44 A4.56,4.56 0 0 1 506.94,709.44 C506.94,706.02 508.99,704.16 511.50,702.00Z" fill="#7fc0ea"/>
<text x="524.6" y="713.4" font-family="Liberation Sans, sans-serif" font-size="11.5" fill="#343434" stroke="#343434" stroke-width="0.3" textLength="60.7" lengthAdjust="spacingAndGlyphs">Водянистая</text>
<ellipse cx="511.5" cy="729.5" rx="4.6" ry="6" fill="#7fc0ea"/>
<text x="524.6" y="734" font-family="Liberation Sans, sans-serif" font-size="11.5" fill="#343434" stroke="#343434" stroke-width="0.3" textLength="71.7" lengthAdjust="spacingAndGlyphs">Яичный белок</text>
<path d="M50.2,736.2 C46,733.2 42.9,730.6 42.9,727.7 C42.9,725.4 44.7,724 46.7,724 C48.3,724 49.5,724.9 50.2,726.3 C50.9,724.9 52.1,724 53.7,724 C55.7,724 57.5,725.4 57.5,727.7 C57.5,730.6 54.4,733.2 50.2,736.2Z" fill="#f25aa8"/>
<text x="64.1" y="734.8" font-family="Liberation Sans, sans-serif" font-size="11.5" fill="#343434" stroke="#343434" stroke-width="0.3" textLength="62.8" lengthAdjust="spacingAndGlyphs">Половой акт</text>
<circle cx="156.5" cy="730.2" r="7.2" fill="#d0d0d0"/><line x1="154.0" y1="733.4" x2="159.0" y2="727.0" stroke="#fff" stroke-width="1.6" stroke-linecap="round"/>
<text x="168.1" y="734.8" font-family="Liberation Sans, sans-serif" font-size="11.5" fill="#343434" stroke="#343434" stroke-width="0.3" textLength="82.2" lengthAdjust="spacingAndGlyphs">Прием лекарств</text>
<path d="M280.1,723.4 A7,7 0 1 0 288.2,731.5 A6,6 0 0 1 280.1,723.4Z" fill="#f3a232"/>
<text x="293.4" y="734.8" font-family="Liberation Sans, sans-serif" font-size="11.5" fill="#343434" stroke="#343434" stroke-width="0.3" textLength="96.3" lengthAdjust="spacingAndGlyphs">Лунный календарь</text>
</svg>
</body></html>
